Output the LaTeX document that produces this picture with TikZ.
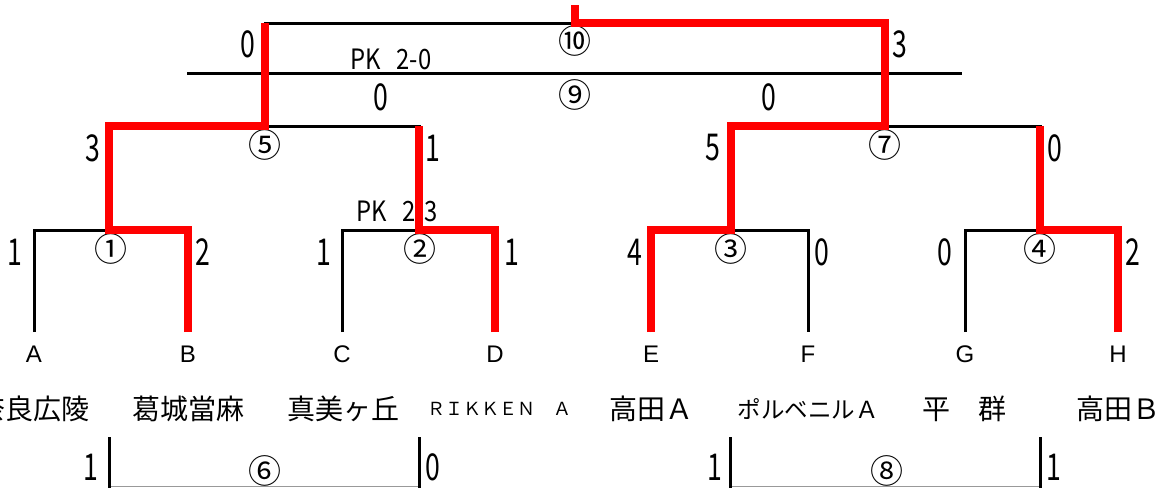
\documentclass[tikz,border=0pt]{standalone}
\usepackage{fontspec}
\setmainfont{Liberation Sans}
\newfontfamily\jp{Noto Sans CJK JP}
\newfontfamily\nar[FakeStretch=0.72]{Noto Sans CJK JP}
\newfontfamily\pkf[FakeStretch=0.85]{Noto Sans CJK JP}
\begin{document}
\begin{tikzpicture}[x=1pt,y=-1pt,
  blk/.style={line width=3pt,black},
  thin/.style={line width=1.5pt,black!40},
  win/.style={line width=7.5pt,red,line join=miter},
  sc/.style={inner sep=0pt,font=\nar\fontsize{37}{37}\selectfont},
  cn/.style={inner sep=0pt,font=\jp\fontsize{33}{33}\selectfont},
  lt/.style={inner sep=0pt,font=\fontsize{24}{24}\selectfont},
  tm/.style={inner sep=0pt,font=\jp\fontsize{28}{28}\selectfont},
  pk/.style={inner sep=0pt,font=\pkf\fontsize{28}{28}\selectfont}]
\useasboundingbox (0,0) rectangle (1160,488);
% leaf coordinates
\foreach \n/\x in {A/34,B/188,C/342,D/495,E/651,F/808,G/965,H/1118}{
  \coordinate (\n0) at (\x,332);
  \coordinate (\n1) at (\x,230);
}
% match points
\coordinate (m1) at (109,230); \coordinate (m2) at (419,230);
\coordinate (m3) at (731,230); \coordinate (m4) at (1040,230);
\coordinate (m1u) at (109,126); \coordinate (m2u) at (419,126);
\coordinate (m3u) at (731,126); \coordinate (m4u) at (1040,126);
\coordinate (m5) at (265,126); \coordinate (m7) at (885,126);
\coordinate (m5u) at (265,23); \coordinate (m7u) at (885,23);
\coordinate (m10) at (575,23); \coordinate (m10s) at (575,5);
\coordinate (p9l) at (187,73); \coordinate (p9r) at (962,73);
% black brackets
\draw[blk] (A0) -- (A1) -- (B1) -- (B0);
\draw[blk] (C0) -- (C1) -- (D1) -- (D0);
\draw[blk] (E0) -- (E1) -- (F1) -- (F0);
\draw[blk] (G0) -- (G1) -- (H1) -- (H0);
\draw[blk] (m1) -- (m1u) -- (m2u) -- (m2);
\draw[blk] (m3) -- (m3u) -- (m4u) -- (m4);
\draw[blk] (m5) -- (m5u) -- (m7u) -- (m7);
\draw[blk] (p9l) -- (p9r);
% bottom matches 6 and 8
\coordinate (b6l) at (109,437); \coordinate (b6r) at (419,437);
\coordinate (b6lb) at (109,488); \coordinate (b6rb) at (419,488);
\coordinate (b8l) at (730,437); \coordinate (b8r) at (1040,437);
\coordinate (b8lb) at (730,488); \coordinate (b8rb) at (1040,488);
\coordinate (h6l) at (109,486.5); \coordinate (h6r) at (419,486.5);
\coordinate (h8l) at (730,486.5); \coordinate (h8r) at (1040,486.5);
\draw[thin] (h6l) -- (h6r);
\draw[thin] (h8l) -- (h8r);
\draw[blk] (b6l) -- (b6lb); \draw[blk] (b6r) -- (b6rb);
\draw[blk] (b8l) -- (b8lb); \draw[blk] (b8r) -- (b8rb);
% texts
\node[pk] (pk20) at (391,59) {PK\hspace{0.55em}2-0};
\node[pk] (pk23) at (397,211) {PK\hspace{0.55em}2-3};
\node[sc] (s10l) at (248,44) {0};
\node[sc] (s10r) at (900,44) {3};
\node[cn] (c10) at (575,41) {⑩};
\node[sc] (s9l) at (381,97) {0};
\node[cn] (c9) at (575,95) {⑨};
\node[sc] (s9r) at (769,97) {0};
\node[sc] (s5l) at (93,148) {3};
\node[cn] (c5) at (265,145) {⑤};
\node[sc] (s5r) at (433,148) {1};
\node[sc] (s7l) at (713,148) {5};
\node[cn] (c7) at (885,145) {⑦};
\node[sc] (s7r) at (1055,148) {0};
\node[sc] (s1l) at (15,252) {1};
\node[cn] (c1) at (111,249) {①};
\node[sc] (s1r) at (203,252) {2};
\node[sc] (s2l) at (324,252) {1};
\node[cn] (c2) at (420,249) {②};
\node[sc] (s2r) at (512,252) {1};
\node[sc] (s3l) at (635,252) {4};
\node[cn] (c3) at (731,249) {③};
\node[sc] (s3r) at (822,252) {0};
\node[sc] (s4l) at (945,252) {0};
\node[cn] (c4) at (1040,249) {④};
\node[sc] (s4r) at (1133,252) {2};
\foreach \n/\x in {A/34,B/188,C/342,D/495,E/651,F/808,G/965,H/1118}{
  \node[lt] (L\n) at (\x,354) {\n};
}
\node[tm] (tA) at (34,409) {奈良広陵};
\node[tm] (tB) at (188,409) {葛城當麻};
\node[tm] (tC) at (343,409) {真美ヶ丘};
\node[inner sep=0pt,font=\jp\fontsize{18}{18}\selectfont] (tD) at (499,409) {ＲＩＫＫＥＮ　Ａ};
\node[tm] (tE) at (651,409) {高田Ａ};
\node[inner sep=0pt,font=\jp\fontsize{23.5}{23.5}\selectfont] (tF) at (808,409) {ポルベニルＡ};
\node[tm] (tG) at (964,409) {平　群};
\node[tm] (tH) at (1118,409) {高田Ｂ};
\node[sc] (s6l) at (91,467) {1};
\node[cn] (c6) at (265,471) {⑥};
\node[sc] (s6r) at (433,467) {0};
\node[sc] (s8l) at (715,467) {1};
\node[cn] (c8) at (887,471) {⑧};
\node[sc] (s8r) at (1054,467) {1};
% winners' paths
\draw[win] (B0) -- (B1) -- (m1) -- (m1u) -- (m5) -- (m5u);
\draw[win] (D0) -- (D1) -- (m2) -- (m2u);
\draw[win] (E0) -- (E1) -- (m3) -- (m3u) -- (m7) -- (m7u) -- (m10) -- (m10s);
\draw[win] (H0) -- (H1) -- (m4) -- (m4u);
\end{tikzpicture}
\end{document}
